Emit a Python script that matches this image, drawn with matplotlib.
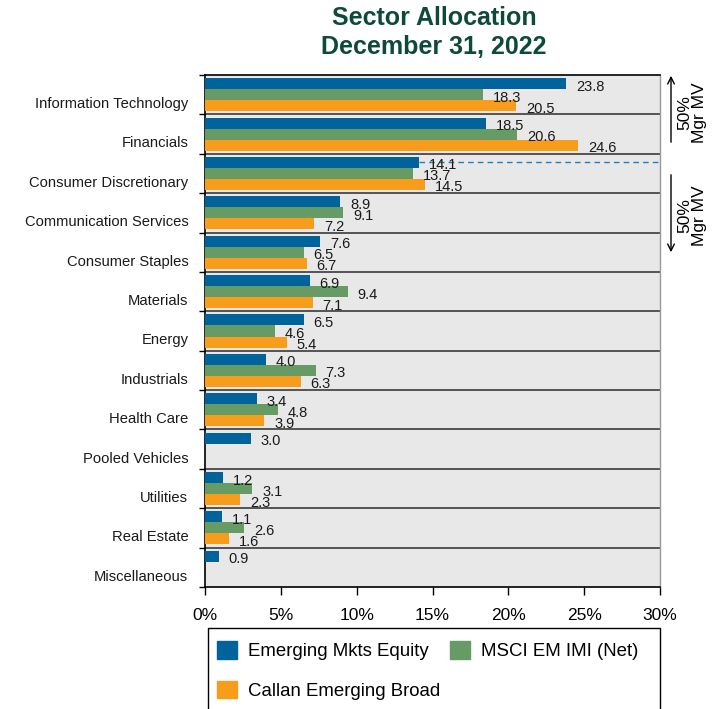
import matplotlib
matplotlib.use("Agg")
import matplotlib.pyplot as plt
from matplotlib.patches import Rectangle, FancyArrowPatch
import numpy as np

plt.rcParams['font.family'] = ['Liberation Sans', 'DejaVu Sans']

categories = ["Information Technology", "Financials", "Consumer Discretionary",
              "Communication Services", "Consumer Staples", "Materials", "Energy",
              "Industrials", "Health Care", "Pooled Vehicles", "Utilities",
              "Real Estate", "Miscellaneous"]
series_names = ["Emerging Mkts Equity", "MSCI EM IMI (Net)", "Callan Emerging Broad"]
portfolio = [23.8, 18.5, 14.1, 8.9, 7.6, 6.9, 6.5, 4.0, 3.4, 3.0, 1.2, 1.1, 0.9]
index_msci = [18.3, 20.6, 13.7, 9.1, 6.5, 9.4, 4.6, 7.3, 4.8, None, 3.1, 2.6, None]
peer_group = [20.5, 24.6, 14.5, 7.2, 6.7, 7.1, 5.4, 6.3, 3.9, None, 2.3, 1.6, None]
colors = ["#00639C", "#679B66", "#F89C1C"]
x_ticks = [0, 5, 10, 15, 20, 25, 30]
x_ticklabels = ["0%", "5%", "10%", "15%", "20%", "25%", "30%"]
median_cut = 14.1  # portfolio weight where cumulative market value reaches 50%

W, H = 721, 709
fig = plt.figure(figsize=(W / 100, H / 100), dpi=100)
ax = fig.add_axes([205 / W, 1 - 587 / H, 455 / W, 512 / H])
ax.set_facecolor("#E8E8E8")

n = len(categories)
y = np.arange(n)
bar_h = 0.28
offsets = [-bar_h, 0.0, bar_h]
all_series = [portfolio, index_msci, peer_group]

for vals, off, col in zip(all_series, offsets, colors):
    for yi, v in zip(y, vals):
        if v is None:
            continue
        ax.barh(yi + off, v, height=bar_h, color=col, edgecolor="none", zorder=3)
        ax.annotate(f"{v:.1f}", xy=(v, yi + off), xytext=(10, -3),
                    textcoords="offset pixels", ha="left", va="center",
                    fontsize=10.5, color="#1a1a1a", zorder=5)

# row separators
for b in np.arange(0.5, n - 0.5, 1.0):
    ax.axhline(b, color="#3a3a3a", lw=1.2, zorder=2)

# dashed line marking the 50% market value split
ax.plot([median_cut, 30], [2 - bar_h, 2 - bar_h], color="#1F7DC0",
        lw=1.0, dashes=(4, 3), zorder=4, clip_on=False)

ax.set_xlim(0, 30)
ax.set_ylim(n - 0.5, -0.5)
ax.set_xticks(x_ticks)
ax.set_xticklabels(x_ticklabels, fontsize=12.5)
ax.tick_params(axis="x", length=6, width=1, pad=9, color="black")
ax.set_yticks(y + 0.2)
ax.set_yticklabels(categories, fontsize=10.6, color="#1a1a1a")
ax.tick_params(axis="y", length=0, pad=12)
ax.set_yticks(np.arange(-0.5, n, 1.0), minor=True)
ax.tick_params(axis="y", which="minor", length=4, width=1, color="black")

for s in ["left", "bottom", "top"]:
    ax.spines[s].set_color("black")
    ax.spines[s].set_linewidth(1.2)
ax.spines["right"].set_color("#9a9a9a")
ax.spines["right"].set_linewidth(1.0)

# title
title_font = dict(ha="center", va="center", fontsize=18, fontweight="bold",
                  color="#0D4A3A")
fig.text(434 / W, 1 - 18 / H, "Sector Allocation", **title_font)
fig.text(434 / W, 1 - 47 / H, "December 31, 2022", **title_font)

# 50% market value brackets
def fx(px):
    return px / W

def fy(py):
    return 1 - py / H

for (y0, y1), yc in [((145, 73), 113), ((172, 255), 216)]:
    arr = FancyArrowPatch((fx(671), fy(y0)), (fx(671), fy(y1)),
                          transform=fig.transFigure, arrowstyle="->",
                          mutation_scale=12, lw=1.0, color="black")
    fig.add_artist(arr)
    fig.text(fx(692), fy(yc), "50%\nMgr MV", rotation=90, ha="center",
             va="center", fontsize=12.5, linespacing=0.95, color="black")

# legend
legend_order = [0, 2, 1]
handles = [Rectangle((0, 0), 1, 1, color=colors[i]) for i in legend_order]
labels = [series_names[i] for i in legend_order]
fig.add_artist(Rectangle((fx(208), fy(716)), (660 - 208) / W, (716 - 628) / H,
                         transform=fig.transFigure, fill=False,
                         edgecolor="black", lw=1.0))
fig.legend(handles, labels, ncol=2, loc="upper left",
           bbox_to_anchor=(fx(217), fy(641)), frameon=False, fontsize=13.4,
           handlelength=1.08, handleheight=1.08, handletextpad=0.6,
           labelspacing=1.1, columnspacing=0.5, borderaxespad=0,
           borderpad=0)

fig.savefig("out.png", dpi=100)
